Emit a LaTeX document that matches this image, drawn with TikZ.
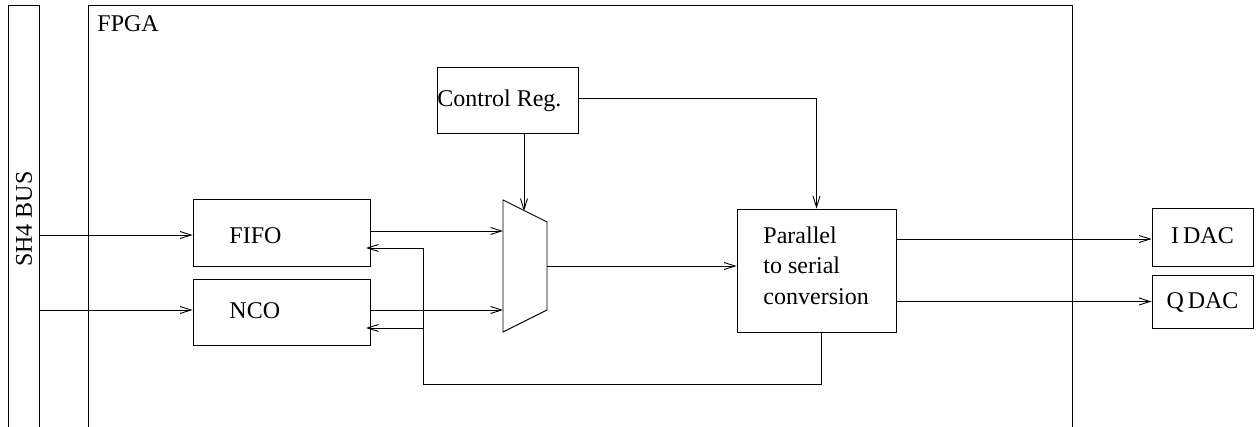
\documentclass[tikz,border=0pt]{standalone}
\usepackage{fontspec}
\setmainfont{Liberation Serif}
\usetikzlibrary{arrows.meta,calc}
\begin{document}
\begin{tikzpicture}[x=1pt,y=-1pt,
    line width=0.9pt,
    box/.style={draw, rectangle, inner sep=0pt},
    lbl/.style={inner sep=0pt, font=\fontsize{24}{30.5}\selectfont},
    arr/.style={-{Straight Barb[length=11pt,width=7pt,line width=0.9pt]}}]
  \useasboundingbox (0,0) rectangle (1258,427);

  % SH4 bus and FPGA frame (open at the bottom)
  \draw (8,427) -- (8,5) -- (39,5) -- (39,427);
  \draw (88,427) -- (88,5) -- (1072,5) -- (1072,427);
  \node[lbl, rotate=90] (bus) at (24,219) {SH4 BUS};
  \node[lbl, anchor=base west] (fpga) at (97,32) {FPGA};

  % functional blocks
  \node[box, minimum width=141pt, minimum height=66pt] (ctrl) at (507.5,100) {};
  \node[box, minimum width=177pt, minimum height=67pt] (fifo) at (281.5,232.5) {};
  \node[box, minimum width=177pt, minimum height=66pt] (nco) at (281.5,312) {};
  \node[box, minimum width=159pt, minimum height=123pt] (p2s) at (816.5,270.5) {};
  \node[box, minimum width=101pt, minimum height=58pt] (idac) at (1202.5,237) {};
  \node[box, minimum width=101pt, minimum height=53pt] (qdac) at (1202.5,301.5) {};

  % block captions
  \node[lbl, anchor=base west] (ctrlt) at (437,107) {Control Reg.};
  \node[lbl, anchor=base west] (fifot) at (229,244) {FIFO};
  \node[lbl, anchor=base west] (ncot) at (229,319) {NCO};
  \node[lbl, anchor=base west] (p2st1) at (763,244) {Parallel};
  \node[lbl, anchor=base west] (p2st2) at (763,274) {to serial};
  \node[lbl, anchor=base west] (p2st3) at (763,305) {conversion};
  \node[lbl, anchor=base] (idact) at (idac.center |- 0,244) {I\,DAC};
  \node[lbl, anchor=base] (qdact) at (qdac.center |- 0,309) {Q\,DAC};

  % multiplexer
  \coordinate (mTL) at (503,200);
  \coordinate (mTR) at (547,222);
  \coordinate (mBR) at (547,310);
  \coordinate (mBL) at (503,332);
  \draw (mTL) -- (mTR) -- (mBR) -- (mBL) -- cycle;
  \coordinate (muxin1) at (503,231);
  \coordinate (muxin2) at (503,310);
  \coordinate (muxsel) at (524,211);
  \coordinate (muxout) at (547,266);

  % bus inputs
  \coordinate (busA) at (39,235);
  \coordinate (busB) at (39,310);
  \draw[arr] (busA) -- (busA -| fifo.west);
  \draw[arr] (busB) -- (busB -| nco.west);

  % data paths
  \draw[arr] (fifo.east |- muxin1) -- (muxin1);
  \draw[arr] (nco.east |- muxin2) -- (muxin2);
  \draw[arr] (muxout) -- (muxout -| p2s.west);
  \draw[arr] (muxsel |- ctrl.south) -- (muxsel);
  \draw[arr] (ctrl.east |- 0,98) -| (p2s.north);
  \draw[arr] (p2s.east |- 0,239) -- (idac.west |- 0,239);
  \draw[arr] (p2s.east |- qdac.west) -- (qdac.west);

  % feedback to FIFO and NCO
  \coordinate (fbcorner) at (423,384);
  \coordinate (fbF) at (366,248);
  \coordinate (fbN) at (366,328);
  \draw[arr] ([xshift=4.5pt]p2s.south) |- (fbcorner) |- (fbF);
  \draw[arr] (fbcorner |- fbN) -- (fbN);
\end{tikzpicture}
\end{document}
